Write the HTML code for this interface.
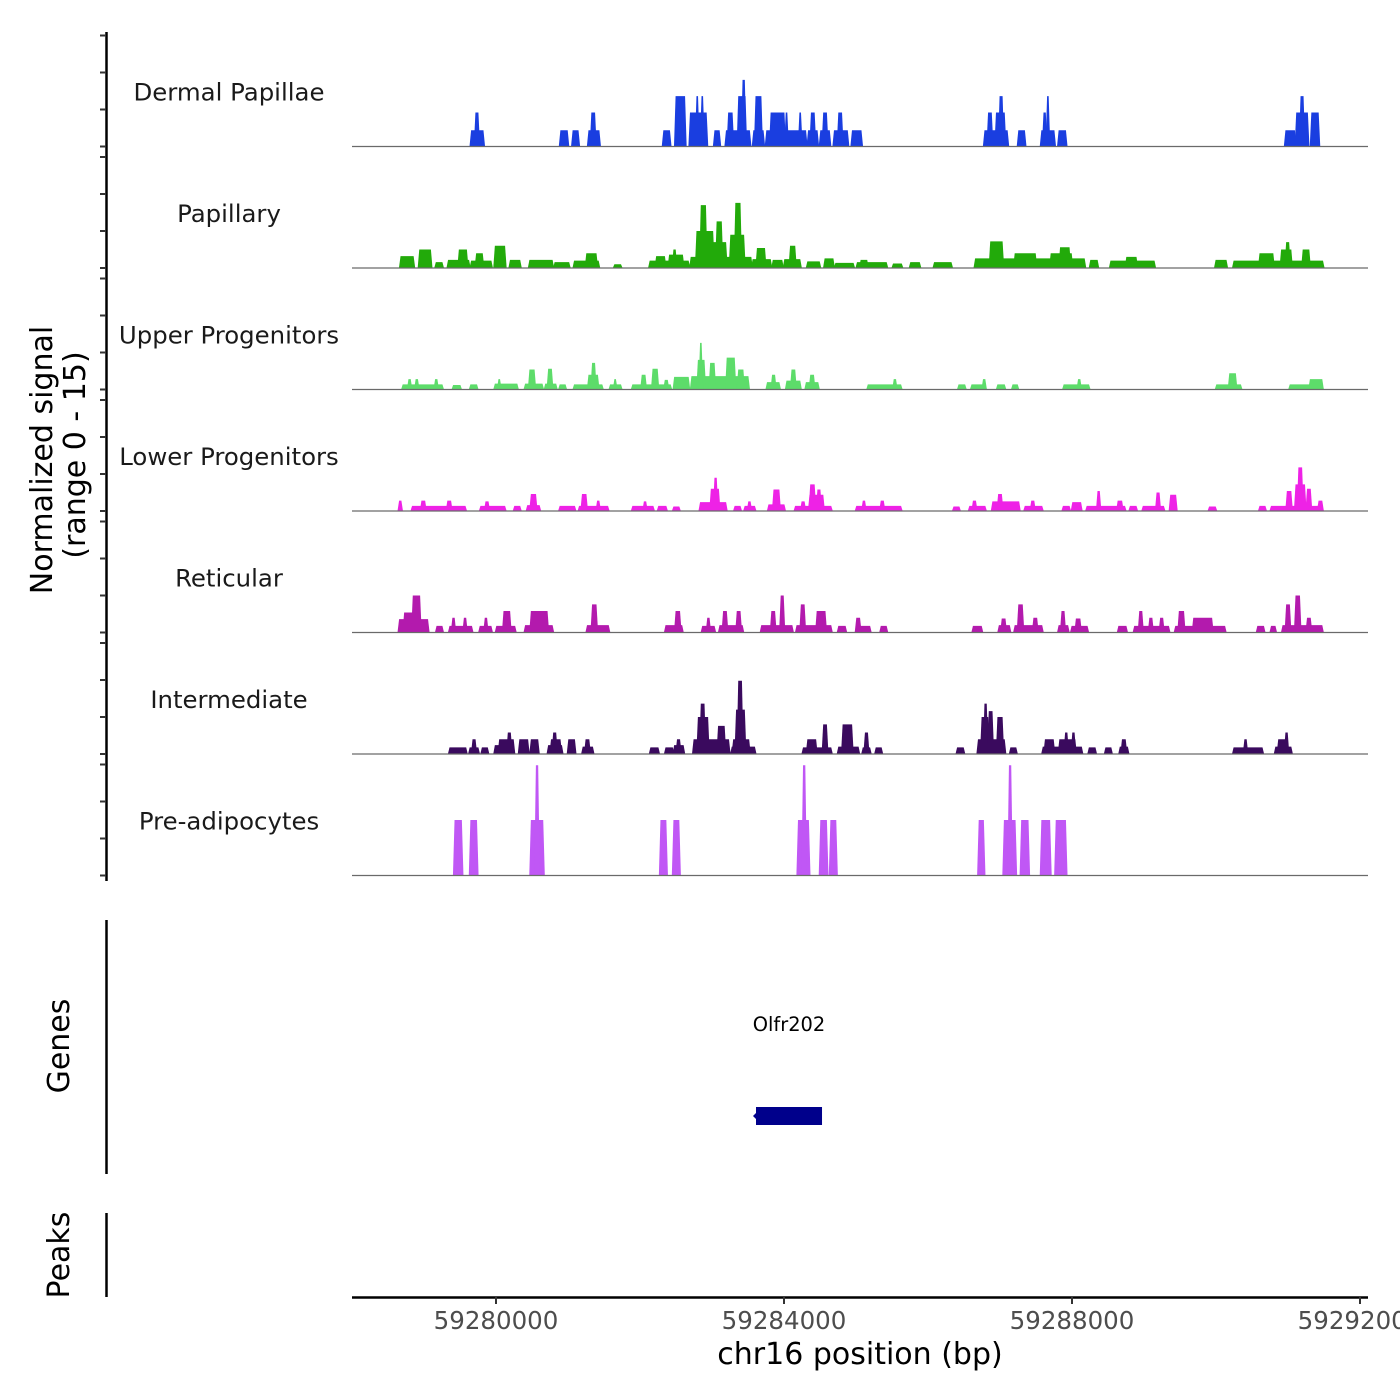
<!DOCTYPE html>
<html><head><meta charset="utf-8"><style>
html,body{margin:0;padding:0;background:#fff;}
svg{display:block;font-family:"DejaVu Sans","Liberation Sans",sans-serif;}
</style></head><body>
<svg id="chart" width="1400" height="1400" viewBox="0 0 1400 1400" xmlns="http://www.w3.org/2000/svg">
<g id="yaxis"></g>
<g id="tracks"></g>
<text transform="translate(52,460) rotate(-90)" text-anchor="middle" font-size="30" fill="#000">Normalized signal</text>
<text transform="translate(85,455) rotate(-90)" text-anchor="middle" font-size="30" fill="#000">(range 0 - 15)</text>
<line x1="106.5" y1="920" x2="106.5" y2="1174" stroke="#000" stroke-width="2.5"/>
<text transform="translate(69,1046) rotate(-90)" text-anchor="middle" font-size="30" fill="#000">Genes</text>
<line x1="106.5" y1="1213" x2="106.5" y2="1297" stroke="#000" stroke-width="2.5"/>
<text transform="translate(69,1255) rotate(-90)" text-anchor="middle" font-size="30" fill="#000">Peaks</text>
<g id="genes"></g>
<g id="xaxis"></g>
<text x="860" y="1364" text-anchor="middle" font-size="30" fill="#000">chr16 position (bp)</text>
</svg>
<script>
// genomic window
const regionStart = 59278000;
const regionEnd = 59292111;
const xTicks = [59280000, 59284000, 59288000, 59292000];
const xTickLabels = ["59280000", "59284000", "59288000", "59292000"];
const trackNames = ["Dermal Papillae","Papillary","Upper Progenitors","Lower Progenitors","Reticular","Intermediate","Pre-adipocytes"];
const trackColors = ["#1a3ee0","#22aa0a","#5ddc6a","#ee22e6","#b31aad","#3a0a5e","#c057f5"];
const yMax = 15;
// blocks: [startKbOffset, endKbOffset, value] relative to regionStart
const dermal = [[1.65,1.83,2.2],[1.71,1.76,4.6],[2.89,3.0,2.2],[3.06,3.15,2.2],[3.28,3.44,2.2],[3.32,3.38,4.6],
[4.32,4.42,2.2],[4.49,4.63,6.8],[4.69,4.93,4.6],[4.78,4.81,6.8],[4.85,4.88,6.8],[5.03,5.11,2.2],[5.19,5.53,2.2],[5.22,5.29,4.6],
[5.36,5.47,6.8],[5.42,5.46,9],[5.57,5.72,2.2],[5.6,5.69,6.8],[5.75,6.31,2.2],[5.81,6.01,4.6],[6.02,6.05,4.6],[6.21,6.24,4.6],
[6.33,6.47,2.2],[6.37,6.43,4.6],[6.5,6.64,2.2],[6.54,6.6,4.6],[6.69,6.89,2.2],[6.75,6.81,4.6],[6.94,7.08,2.2],
[8.78,9.11,2.2],[8.83,8.89,4.6],[8.94,9.07,4.6],[8.99,9.04,6.8],[9.25,9.35,2.2],[9.57,9.76,2.2],[9.6,9.64,4.6],[9.65,9.68,6.8],
[9.81,9.92,2.2],[12.96,13.1,2.2],[13.11,13.28,4.6],[13.17,13.22,6.8],[13.32,13.43,4.6]];
const papillary = [[0.67,0.86,1.6],[0.93,1.10,2.5],[1.16,1.26,0.8],[1.33,1.63,1.1],[1.48,1.6,2.5],[1.65,1.94,1.0],[1.72,1.82,2.0],
[1.98,2.13,3.0],[2.19,2.34,1.1],[2.46,2.79,1.1],[2.81,3.02,0.8],[3.08,3.43,1.0],[3.25,3.40,2.0],[3.64,3.74,0.5],
[4.13,4.68,1.0],[4.22,4.35,1.6],[4.40,4.60,1.8],[4.46,4.50,2.5],[4.70,5.55,1.5],[4.78,5.02,5.0],[4.84,4.92,8.5],[5.0,5.2,3.5],[5.06,5.14,6.3],
[5.25,5.45,4.5],[5.32,5.40,8.8],[5.56,5.82,1.2],[5.62,5.74,2.7],[5.84,5.98,1.1],[6.0,6.23,1.2],[6.08,6.16,3.0],[6.32,6.5,0.9],
[6.56,6.69,1.3],[6.71,6.97,0.7],[7.01,7.43,0.8],[7.06,7.16,1.1],[7.51,7.64,0.6],[7.75,7.89,0.8],[8.08,8.33,0.8],
[8.65,10.18,1.3],[8.86,9.04,3.6],[9.2,9.5,2.0],[9.7,10.0,2.0],[9.83,9.97,2.8],[10.25,10.36,1.1],[10.53,11.15,1.0],[10.75,10.9,1.5],
[11.99,12.15,1.1],[12.24,13.49,1.0],[12.6,12.8,2.0],[12.9,13.05,2.5],[12.97,13.02,3.5],[13.2,13.3,2.5]];
const upper = [[0.70,1.26,0.7],[0.78,0.82,1.4],[0.88,0.92,1.4],[1.15,1.19,1.4],[1.40,1.51,0.6],[1.64,1.74,0.7],[1.98,2.3,0.8],[2.03,2.06,1.4],
[2.4,2.65,0.8],[2.46,2.54,2.7],[2.68,2.84,0.8],[2.72,2.78,2.8],[2.88,2.97,0.7],[3.08,3.48,0.7],[3.28,3.42,2.0],[3.33,3.38,3.6],[3.58,3.74,0.7],[3.64,3.67,1.4],
[3.89,4.43,0.7],[4.02,4.08,2.0],[4.17,4.25,2.8],[4.34,4.39,1.3],[4.47,4.68,1.7],[4.71,5.51,1.8],[4.80,4.90,4.0],[4.83,4.86,6.3],[4.97,5.04,3.6],
[5.2,5.32,4.3],[5.36,5.44,2.7],[5.76,5.94,1.0],[5.83,5.88,2.0],[6.03,6.23,1.2],[6.1,6.16,2.7],[6.3,6.48,1.0],[6.36,6.42,2.0],
[7.16,7.63,0.7],[7.52,7.56,1.4],[8.42,8.52,0.7],[8.6,8.8,0.7],[8.76,8.8,1.4],[8.96,9.07,0.7],[9.17,9.25,0.7],[9.88,10.24,0.7],[10.08,10.12,1.4],
[12.0,12.35,0.7],[12.18,12.28,2.2],[13.02,13.48,0.7],[13.3,13.48,1.4]];
const lower = [[0.65,0.69,1.4],[0.83,1.58,0.7],[0.96,1.02,1.4],[1.32,1.38,1.4],[1.78,2.13,0.7],[1.85,1.9,1.3],[2.25,2.34,0.7],[2.43,2.61,0.8],[2.48,2.56,2.3],
[2.88,3.1,0.7],[3.15,3.56,0.7],[3.19,3.26,2.3],[3.40,3.44,1.4],[3.89,4.19,0.7],[4.05,4.09,1.3],[4.25,4.37,0.7],[4.46,4.55,0.6],
[4.83,5.2,1.2],[4.98,5.1,3.0],[5.03,5.07,4.5],[5.31,5.4,0.7],[5.45,5.6,0.7],[5.5,5.54,1.3],[5.78,6.01,0.9],[5.85,5.94,2.9],
[6.15,6.66,0.7],[6.24,6.29,1.3],[6.35,6.55,2.2],[6.36,6.43,3.6],[6.46,6.51,2.9],[7.0,7.63,0.7],[7.09,7.13,1.4],[7.34,7.39,1.4],
[8.35,8.44,0.6],[8.57,8.8,0.7],[8.62,8.67,1.4],[8.89,9.27,1.3],[8.97,9.03,2.3],[9.34,9.59,0.7],[9.43,9.48,1.4],[9.87,9.97,0.7],[10.0,10.13,1.2],
[10.2,10.74,0.7],[10.35,10.39,2.7],[10.63,10.7,1.4],[10.8,10.9,0.7],[10.98,11.28,0.7],[11.17,11.22,2.5],[11.36,11.45,2.2],[11.9,12.0,0.6],
[12.6,12.69,0.7],[12.76,13.48,0.7],[12.98,13.05,2.7],[13.1,13.24,3.6],[13.14,13.2,5.9],[13.26,13.32,3.0],[13.42,13.48,1.4]];
const reticular = [[0.65,1.06,1.8],[0.72,0.85,2.7],[0.84,0.95,5.0],[1.17,1.26,0.9],[1.35,1.67,0.9],[1.39,1.43,2.0],[1.55,1.59,2.0],[1.77,1.94,0.9],[1.84,1.88,2.0],
[2.0,2.27,0.9],[2.1,2.2,2.9],[2.4,2.79,1.0],[2.48,2.72,2.9],[3.26,3.57,1.0],[3.33,3.40,3.8],[4.35,4.59,1.0],[4.49,4.56,2.9],[4.86,5.04,0.9],[4.93,4.97,2.0],
[5.1,5.43,1.0],[5.15,5.21,2.9],[5.34,5.4,2.9],[5.68,6.12,1.0],[5.82,5.88,2.9],[5.95,6.0,5.0],[6.17,6.66,1.0],[6.23,6.29,3.8],[6.45,6.58,2.9],
[6.75,6.86,0.9],[7.0,7.2,0.9],[7.0,7.06,2.0],[7.34,7.43,0.9],[8.62,8.75,0.9],[8.98,9.14,1.0],[9.02,9.08,1.9],[9.2,9.59,1.0],[9.25,9.32,3.8],[9.46,9.52,2.0],
[9.81,9.95,1.0],[9.85,9.9,2.9],[9.99,10.22,0.9],[10.05,10.12,1.9],[10.64,10.76,0.9],[10.86,11.35,0.9],[10.93,10.98,2.9],[11.07,11.12,2.0],[11.22,11.27,2.0],
[11.43,12.13,0.9],[11.48,11.56,2.9],[11.68,11.95,2.0],[12.57,12.67,0.9],[12.76,12.83,0.9],[12.92,13.48,1.0],[12.97,13.03,3.8],[13.1,13.17,5.0],[13.26,13.32,2.0]];
const intermediate = [[1.35,1.59,0.9],[1.63,1.76,0.9],[1.67,1.72,2.0],[1.8,1.89,0.9],[1.98,2.25,1.2],[2.04,2.25,2.0],[2.16,2.21,2.9],[2.32,2.45,2.0],[2.48,2.59,2.0],
[2.72,2.92,1.2],[2.76,2.9,2.0],[2.79,2.84,2.9],[3.0,3.1,2.0],[3.2,3.35,1.0],[3.24,3.3,2.0],[4.14,4.26,0.9],[4.35,4.46,0.9],[4.47,4.61,1.2],[4.51,4.56,2.0],
[4.74,5.24,2.0],[4.8,4.95,5.0],[4.84,4.9,6.8],[5.08,5.18,3.8],[5.27,5.6,1.0],[5.29,5.52,2.0],[5.33,5.46,6.0],[5.36,5.42,9.9],
[6.26,6.66,0.9],[6.32,6.45,2.0],[6.54,6.6,4.0],[6.75,7.04,1.0],[6.81,6.95,4.0],[7.09,7.2,0.9],[7.12,7.17,2.9],[7.27,7.36,0.9],[8.4,8.5,0.9],
[8.69,9.07,2.0],[8.74,8.84,5.0],[8.78,8.82,6.8],[8.84,8.9,5.8],[8.96,9.04,5.0],[9.14,9.23,0.9],[9.59,10.14,1.0],[9.62,9.75,2.0],[9.82,10.05,2.0],[9.9,9.94,2.9],[10.0,10.04,2.9],
[10.23,10.33,0.9],[10.46,10.55,0.9],[10.66,10.78,1.0],[10.69,10.75,2.0],[12.24,12.65,0.9],[12.39,12.43,2.0],[12.82,13.05,1.0],[12.86,13.0,2.0],[12.96,13.0,2.9]];
const preadipo = [[1.42,1.53,7.5],[1.64,1.74,7.5],[2.48,2.66,7.5],[2.55,2.59,14.9],[4.28,4.37,7.5],[4.46,4.55,7.5],[6.19,6.35,7.5],[6.26,6.3,14.9],
[6.5,6.6,7.5],[6.64,6.73,7.5],[8.7,8.78,7.5],[9.05,9.22,7.5],[9.12,9.16,14.9],[9.29,9.4,7.5],[9.57,9.7,7.5],[9.77,9.92,7.5]];
const trackData = [dermal, papillary, upper, lower, reticular, intermediate, preadipo];
// gene annotation
const geneName = "Olfr202";
const geneStart = 59283611;
const geneEnd = 59284528;

const NS = "http://www.w3.org/2000/svg";
const plotL = 352, plotR = 1368;
function xScale(bp){ return plotL + (bp - regionStart) / (regionEnd - regionStart) * (plotR - plotL); }
const firstBase = 146.5, trackStep = 121.5, trackH = 111;
function yScale(v, i){ return firstBase + i*trackStep - v / yMax * trackH; }
function mk(tag, attrs, parent){ const e=document.createElementNS(NS,tag); for(const k in attrs) e.setAttribute(k,attrs[k]); parent.appendChild(e); return e; }

const yaxis = document.getElementById('yaxis');
const ax = mk('line',{x1:106.5,y1:32,x2:106.5,y2:881,stroke:'#000','stroke-width':2.5},yaxis);


const tracks = document.getElementById('tracks');
trackData.forEach((blocks, i) => {
  const g = mk('g',{},tracks);
  
  
  [0,5,10,15].forEach(v => {
    const t = mk('line',{x1:100,x2:106,y1:yScale(v,i),y2:yScale(v,i),stroke:'#333','stroke-width':2},yaxis);
    
    
  });
  const lbl = mk('text',{x:229,y:yScale(0,i)-46,'text-anchor':'middle','font-size':24.4,fill:'#1a1a1a'},g);
  lbl.textContent = trackNames[i];
  
  
  const base = yScale(0,i);
  const slant = 1.3;
  blocks.forEach(b => {
    const x0 = xScale(regionStart + b[0]*1000), x1 = xScale(regionStart + b[1]*1000), yt = yScale(b[2], i);
    const p = mk('polygon',{points:`${x0-slant},${base} ${x0+0.3},${yt} ${x1-0.3},${yt} ${x1+slant},${base}`,fill:trackColors[i]},g);
    
    
  });
  const bl = mk('line',{x1:plotL,x2:plotR,y1:base,y2:base,stroke:'#6a6a6a','stroke-width':1.2},g);
  
  
});

const genes = document.getElementById('genes');
const gt = mk('text',{x:(xScale(geneStart)+xScale(geneEnd))/2,y:1031,'text-anchor':'middle','font-size':19.4,fill:'#000'},genes);
gt.textContent = geneName;


const gr = mk('rect',{x:xScale(geneStart),y:1107,width:xScale(geneEnd)-xScale(geneStart),height:18,fill:'#00008b'},genes);


const ga = mk('polygon',{points:`${xScale(geneStart)-3},1116 ${xScale(geneStart)+1},1112 ${xScale(geneStart)+1},1120`,fill:'#00008b'},genes);



const xaxis = document.getElementById('xaxis');
const xl = mk('line',{x1:plotL,x2:plotR,y1:1297.5,y2:1297.5,stroke:'#000','stroke-width':2.5},xaxis);


xTicks.forEach((t, k) => {
  const x = xScale(t);
  const tl = mk('line',{x1:x,x2:x,y1:1297,y2:1304,stroke:'#333','stroke-width':2},xaxis);
  
  
  const tx = mk('text',{x:x,y:1329,'text-anchor':'middle','font-size':24.5,fill:'#4d4d4d'},xaxis);
  tx.textContent = xTickLabels[k];
  
  
});
</script>
</body></html>
